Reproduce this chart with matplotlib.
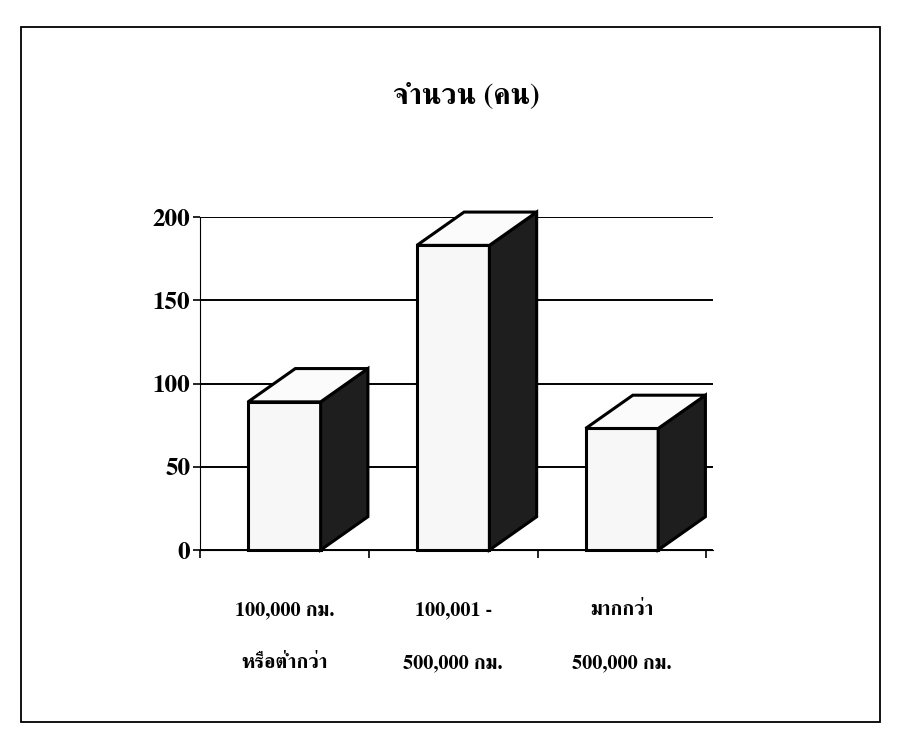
import matplotlib
matplotlib.use('Agg')
import matplotlib.pyplot as plt
from matplotlib.patches import Polygon, Rectangle

# data
categories = ['100,000 กม.\nหรือต่ำกว่า', '100,001 -\n500,000 กม.', 'มากกว่า\n500,000 กม.']
counts = [89, 183, 73]
y_ticks = [0, 50, 100, 150, 200]
title = 'จำนวน (คน)'

thai = 'FreeSerif'   # serif font with Thai glyphs

fig = plt.figure(figsize=(8.98, 7.55), dpi=100)
ax = fig.add_axes([0.2227, 0.2715, 0.5713, 0.441])

w = 0.43     # bar width
dx = 0.28    # depth offset (x)
dy = 20      # depth offset (y)

ax.set_xlim(-0.5, 2.54)
ax.set_ylim(0, 200)

for y in y_ticks:
    ax.axhline(y, color='black', lw=1.4, zorder=1)

for i, v in enumerate(counts):
    x0, x1 = i - w / 2, i + w / 2
    front = Polygon([(x0, 0), (x1, 0), (x1, v), (x0, v)], closed=True,
                    fc='#f7f7f7', ec='black', lw=2.2, zorder=3, clip_on=False)
    side = Polygon([(x1, 0), (x1 + dx, dy), (x1 + dx, v + dy), (x1, v)], closed=True,
                   fc='#1e1e1e', ec='black', lw=2.2, zorder=3, clip_on=False)
    top = Polygon([(x0, v), (x1, v), (x1 + dx, v + dy), (x0 + dx, v + dy)], closed=True,
                  fc='#fbfbfb', ec='black', lw=2.2, zorder=3, clip_on=False)
    for p in (front, side, top):
        ax.add_patch(p)

for s in ['top', 'right']:
    ax.spines[s].set_visible(False)

ax.set_yticks(y_ticks)
ax.set_yticklabels([str(t) for t in y_ticks], fontfamily=thai,
                   fontweight='bold', fontsize=18)
ax.tick_params(axis='y', length=5, width=1.2, pad=2)

ax.set_xticks([-0.5, 0.5, 1.5, 2.5])
ax.set_xticklabels([])
ax.tick_params(axis='x', which='major', length=6, width=1.2)
ax.set_xticks([0, 1, 2], minor=True)
ax.set_xticklabels(categories, minor=True, fontfamily=thai, fontweight='bold',
                   fontsize=14.5, linespacing=3.5)
ax.tick_params(axis='x', which='minor', length=0, pad=37)

fig.text(0.519, 0.874, title, ha='center', va='center', fontsize=21,
         fontweight='bold', family=thai)

fig.patches.append(Rectangle((0.023, 0.044), 0.957, 0.92, transform=fig.transFigure,
                             fill=False, ec='black', lw=1.3))

fig.savefig('out.png', dpi=100)
